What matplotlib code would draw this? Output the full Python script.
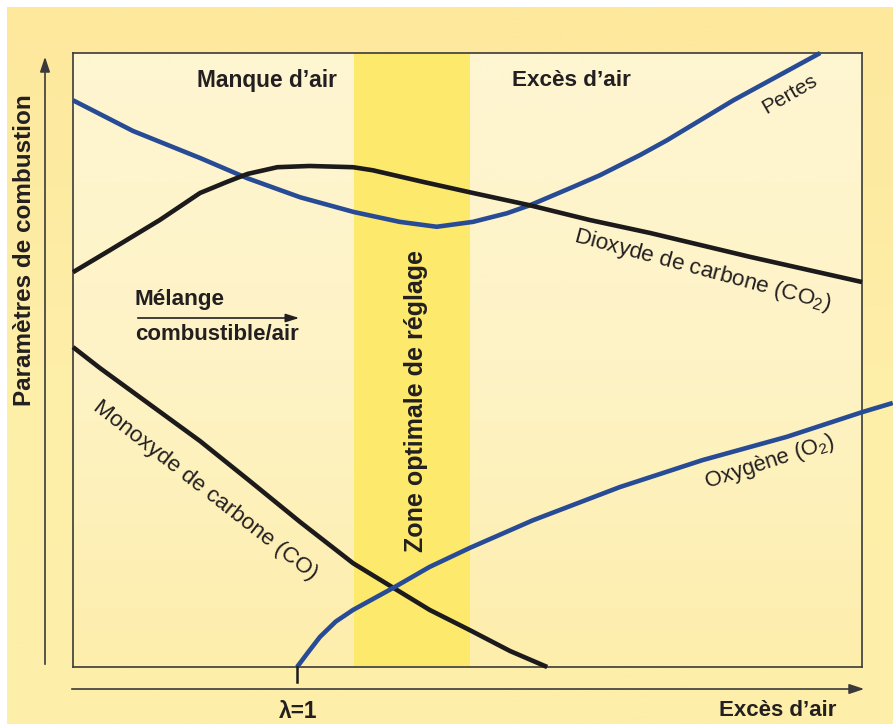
import numpy as np
import matplotlib
matplotlib.use("Agg")
import matplotlib.pyplot as plt
from matplotlib.colors import LinearSegmentedColormap

plt.rcParams['font.family'] = ['Liberation Sans', 'DejaVu Sans']
plt.rcParams['mathtext.fontset'] = 'custom'
plt.rcParams['mathtext.rm'] = 'Liberation Sans'
plt.rcParams['mathtext.default'] = 'regular'

# ---------------- data (x: excès d'air 0-100, y: paramètre 0-100) ----------------
pertes_x = [0, 7.6, 16.1, 22.1, 28.8, 35.6, 41.4, 46.1, 50.7, 55.0, 57.9, 63.4, 66.8, 71.9, 75.3, 83.7, 94.7]
pertes_y = [92.3, 87.3, 82.9, 79.6, 76.5, 74.1, 72.5, 71.7, 72.5, 73.9, 75.2, 78.2, 80.1, 83.4, 85.8, 92.3, 100.0]

co2_x = [0, 4.7, 11.0, 16.1, 19.5, 22.1, 25.9, 30.0, 35.5, 38.0, 44.4, 50.7, 57.9, 65.5, 73.1, 85.8, 100]
co2_y = [64.3, 67.9, 72.8, 77.2, 79.0, 80.3, 81.4, 81.6, 81.4, 80.9, 79.0, 77.2, 75.2, 72.8, 70.7, 66.8, 62.7]

co_x = [0, 3.4, 9.8, 16.1, 22.4, 28.8, 35.5, 40.6, 45.2, 50.3, 55.4, 60.1]
co_y = [52.1, 48.7, 42.7, 36.8, 30.3, 23.6, 16.9, 12.9, 9.3, 6.0, 2.6, 0]

o2_x = [28.4, 29.8, 31.3, 33.3, 35.5, 40.6, 45.2, 50.3, 58.3, 69.3, 79.8, 90.5, 100, 103.9]
o2_y = [0, 2.4, 4.9, 7.4, 9.3, 12.9, 16.3, 19.4, 23.9, 29.3, 33.7, 37.5, 41.5, 43.0]

lambda_1 = 28.4
zone_optimale = (35.6, 50.3)

# ---------------- figure ----------------
W, H = 893, 724
fig = plt.figure(figsize=(W / 100, H / 100), dpi=100)
fig.patch.set_facecolor('white')

grad = np.linspace(0, 1, 256).reshape(-1, 1)
outer_cmap = LinearSegmentedColormap.from_list('outer', ['#fde89c', '#fdeea8', '#fdefaa'])

# outer background
bgi = fig.add_axes([0, 0, 1, 1], zorder=0)
bgi.set_xlim(0, W); bgi.set_ylim(H, 0); bgi.axis('off')
bgi.imshow(grad, cmap=outer_cmap, extent=[7, W, H, 7], aspect='auto', zorder=0)

# main axes = plot box
L, R, T, B = 73, 862, 53, 667
ax = fig.add_axes([L / W, 1 - B / H, (R - L) / W, (B - T) / H], zorder=1)
ax.set_xlim(0, 100)
ax.set_ylim(0, 100)
ax.set_xticks([])
ax.set_yticks([])
ax.patch.set_alpha(0)
for s in ax.spines.values():
    s.set_color('#3a3a3a')
    s.set_linewidth(1.2)

inner_cmap = LinearSegmentedColormap.from_list('inner', ['#fdeeac', '#fef3c6', '#fef6d2'])
ax.imshow(grad, cmap=inner_cmap, extent=[0, 100, 0, 100], origin='lower', aspect='auto', zorder=0)
ax.axvspan(zone_optimale[0], zone_optimale[1], color='#fde96c', zorder=1, lw=0)

blue = '#284b96'
black = '#1c1a1b'
lw = 3.3
kw = dict(lw=lw, zorder=3, solid_capstyle='butt', solid_joinstyle='round', clip_on=False)
ax.plot(pertes_x, pertes_y, color=blue, **kw)
ax.plot(co2_x, co2_y, color=black, **kw)
ax.plot(co_x, co_y, color=black, **kw)
ax.plot(o2_x, o2_y, color=blue, **kw)

# lambda = 1 tick
ax.plot([lambda_1, lambda_1], [0, -2.5], color=black, lw=1.8, clip_on=False, zorder=4)

# ---------------- overlay (arrows & texts, pixel coordinates) ----------------
bg = fig.add_axes([0, 0, 1, 1], zorder=2)
bg.set_xlim(0, W)
bg.set_ylim(H, 0)
bg.axis('off')
bg.patch.set_alpha(0)

arrow_col = '#3a3a3a'
bg.annotate('', xy=(45, 54), xytext=(45, 667),
            arrowprops=dict(arrowstyle='-|>,head_length=0.9,head_width=0.3', color=arrow_col, lw=1.2))
bg.annotate('', xy=(867, 689), xytext=(69, 689),
            arrowprops=dict(arrowstyle='-|>,head_length=0.9,head_width=0.3', color=arrow_col, lw=1.2))

txt = '#231f20'
bg.text(25, 250, 'Paramètres de combustion', rotation=90, ha='center', va='center',
        fontsize=17.5, fontweight='bold', color=txt)
bg.text(267, 80, 'Manque d’air', ha='center', va='center', fontsize=16.4, fontweight='bold', color=txt)
bg.text(571, 80, 'Excès d’air', ha='center', va='center', fontsize=16.2, fontweight='bold', color=txt)
bg.text(416, 401, 'Zone optimale de réglage', rotation=90, ha='center', va='center',
        fontsize=18, fontweight='bold', color=txt, zorder=5)
bg.text(135, 300, 'Mélange', ha='left', va='center', fontsize=16.2, fontweight='bold', color=txt)
bg.text(135, 334, 'combustible/air', ha='left', va='center', fontsize=16, fontweight='bold', color=txt)
bg.annotate('', xy=(302, 318), xytext=(135, 318),
            arrowprops=dict(arrowstyle='-|>,head_length=0.8,head_width=0.25', color=txt, lw=1.2))
bg.text(298, 711, 'λ=1', ha='center', va='center', fontsize=16.4, fontweight='bold', color=txt)
bg.text(778, 710, 'Excès d’air', ha='center', va='center', fontsize=16, fontweight='bold', color=txt)

bg.text(790, 94, 'Pertes', rotation=30, ha='center', va='center', rotation_mode='anchor',
        fontsize=15, color=txt)
bg.text(702, 270, 'Dioxyde de carbone (CO$_2$)', rotation=-15, ha='center', va='center',
        rotation_mode='anchor', fontsize=16.2, color=txt)
bg.text(770, 462, 'Oxygène (O$_2$)', rotation=18, ha='center', va='center',
        rotation_mode='anchor', fontsize=15.8, color=txt)
bg.text(205, 490, 'Monoxyde de carbone (CO)', rotation=-38, ha='center', va='center',
        rotation_mode='anchor', fontsize=16.2, color=txt)

fig.savefig('out.png', dpi=100, facecolor='white')
